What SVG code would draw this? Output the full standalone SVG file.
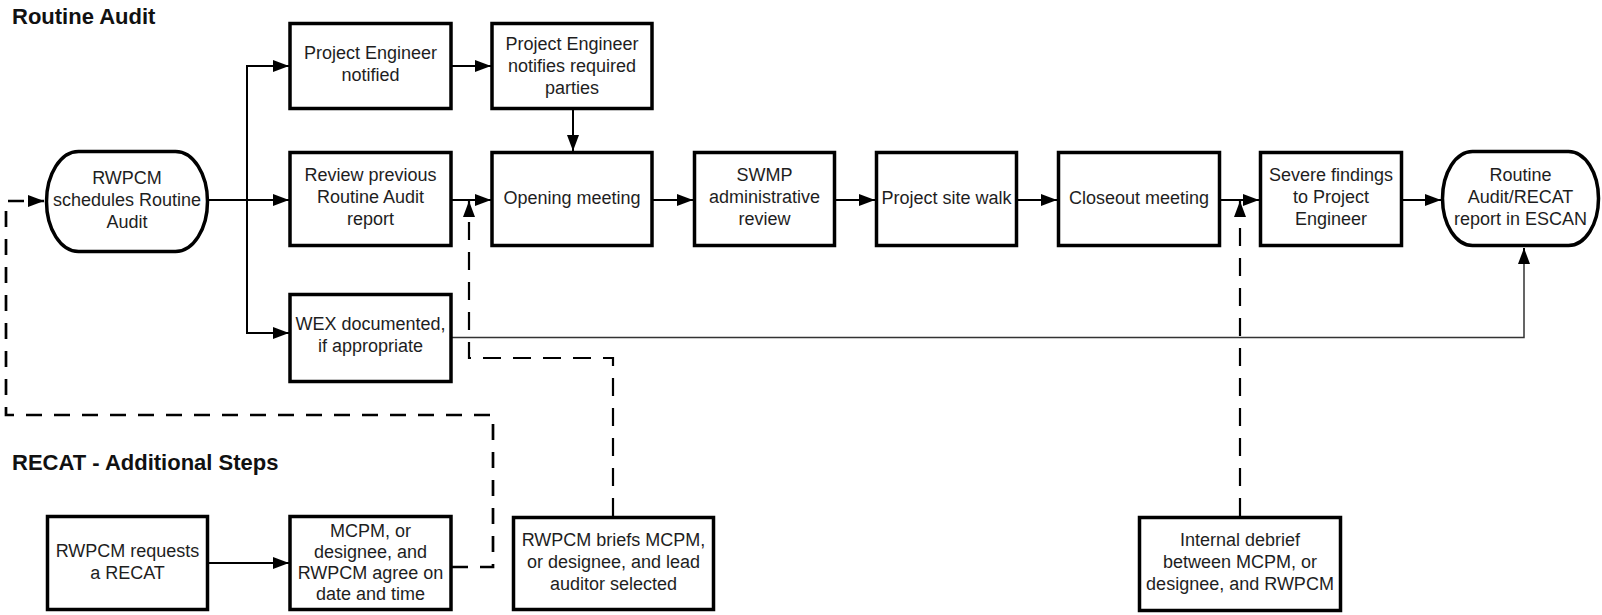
<svg xmlns="http://www.w3.org/2000/svg" width="1602" height="615" viewBox="0 0 1602 615">
  <style>
    .box { fill: #fff; stroke: #000; stroke-width: 3.5; }
    .lbl { font-family: "Liberation Sans", Arial, sans-serif; font-size: 18px; fill: #1e1e1e; text-anchor: middle; }
    .title { font-family: "Liberation Sans", Arial, sans-serif; font-size: 22px; font-weight: bold; fill: #111; }
    .conn { fill: none; stroke: #000; stroke-width: 2; }
    .thin { fill: none; stroke: #333; stroke-width: 1.5; }
    .dash { fill: none; stroke: #000; stroke-width: 2.2; stroke-dasharray: 18 12; }
    .dashb { fill: none; stroke: #000; stroke-width: 2.7; stroke-dasharray: 16 12; }
  </style>
  <defs>
    <marker id="arr" markerUnits="userSpaceOnUse" markerWidth="16" markerHeight="12" refX="16" refY="6" orient="auto">
      <path d="M0,0 L16,6 L0,12 z" fill="#000"/>
    </marker>
  </defs>
  <rect width="1602" height="615" fill="#fff"/>

  <text class="title" x="12" y="24">Routine Audit</text>
  <text class="title" x="12" y="470">RECAT - Additional Steps</text>

  <!-- connectors -->
  <g id="connectors">
    <path class="conn" d="M209,200 H289" marker-end="url(#arr)"/>
    <path class="conn" d="M247,200 V66 H289" marker-end="url(#arr)"/>
    <path class="conn" d="M247,200 V333 H289" marker-end="url(#arr)"/>
    <path class="conn" d="M452,66 H491" marker-end="url(#arr)"/>
    <path class="conn" d="M573,110 V151" marker-end="url(#arr)"/>
    <path class="conn" d="M452,200 H491" marker-end="url(#arr)"/>
    <path class="conn" d="M653,200 H693" marker-end="url(#arr)"/>
    <path class="conn" d="M836,200 H875" marker-end="url(#arr)"/>
    <path class="conn" d="M1018,200 H1057" marker-end="url(#arr)"/>
    <path class="conn" d="M1221,200 H1259" marker-end="url(#arr)"/>
    <path class="conn" d="M1403,200 H1441" marker-end="url(#arr)"/>
    <path class="thin" d="M452,337.5 H1524 V262"/>
    <path class="conn" d="M1524,262 V248" marker-end="url(#arr)"/>
    <path class="conn" d="M209,563 H289" marker-end="url(#arr)"/>
    <path class="dashb" d="M452,567 H493 V415 H6 V201 H44" marker-end="url(#arr)"/>
    <path class="dash" d="M613,516 V358 H469 V201" marker-end="url(#arr)"/>
    <path class="dash" d="M1240,516 V201" marker-end="url(#arr)"/>
  </g>

  <g id="start">
    <rect class="box" x="46.5" y="151.5" width="161" height="100" rx="32" ry="50"/>
    <text class="lbl" x="127" y="184">RWPCM</text>
    <text class="lbl" x="127" y="206">schedules Routine</text>
    <text class="lbl" x="127" y="228">Audit</text>
  </g>

  <g id="pe-notified">
    <rect class="box" x="290" y="23.5" width="161" height="85"/>
    <text class="lbl" x="370.5" y="59">Project Engineer</text>
    <text class="lbl" x="370.5" y="81">notified</text>
  </g>

  <g id="pe-notifies">
    <rect class="box" x="492" y="23.5" width="160" height="85"/>
    <text class="lbl" x="572" y="50">Project Engineer</text>
    <text class="lbl" x="572" y="72">notifies required</text>
    <text class="lbl" x="572" y="94">parties</text>
  </g>

  <g id="review">
    <rect class="box" x="290" y="152.5" width="161" height="93"/>
    <text class="lbl" x="370.5" y="181">Review previous</text>
    <text class="lbl" x="370.5" y="203">Routine Audit</text>
    <text class="lbl" x="370.5" y="225">report</text>
  </g>

  <g id="wex">
    <rect class="box" x="290" y="294.5" width="161" height="87"/>
    <text class="lbl" x="370.5" y="330">WEX documented,</text>
    <text class="lbl" x="370.5" y="352">if appropriate</text>
  </g>

  <g id="opening">
    <rect class="box" x="492" y="152.5" width="160" height="93"/>
    <text class="lbl" x="572" y="204">Opening meeting</text>
  </g>

  <g id="swmp">
    <rect class="box" x="694.5" y="152.5" width="140" height="93"/>
    <text class="lbl" x="764.5" y="181">SWMP</text>
    <text class="lbl" x="764.5" y="203">administrative</text>
    <text class="lbl" x="764.5" y="225">review</text>
  </g>

  <g id="site-walk">
    <rect class="box" x="876.5" y="152.5" width="140" height="93"/>
    <text class="lbl" x="946.5" y="204">Project site walk</text>
  </g>

  <g id="closeout">
    <rect class="box" x="1058.5" y="152.5" width="161" height="93"/>
    <text class="lbl" x="1139" y="204">Closeout meeting</text>
  </g>

  <g id="severe">
    <rect class="box" x="1260.5" y="152.5" width="141" height="93"/>
    <text class="lbl" x="1331" y="181">Severe findings</text>
    <text class="lbl" x="1331" y="203">to Project</text>
    <text class="lbl" x="1331" y="225">Engineer</text>
  </g>

  <g id="report">
    <rect class="box" x="1442.5" y="151.5" width="156" height="94" rx="30" ry="47"/>
    <text class="lbl" x="1520.5" y="181">Routine</text>
    <text class="lbl" x="1520.5" y="203">Audit/RECAT</text>
    <text class="lbl" x="1520.5" y="225">report in ESCAN</text>
  </g>

  <g id="recat-request">
    <rect class="box" x="47.5" y="516.5" width="160" height="93"/>
    <text class="lbl" x="127.5" y="557">RWPCM requests</text>
    <text class="lbl" x="127.5" y="579">a RECAT</text>
  </g>

  <g id="agree-date">
    <rect class="box" x="290" y="516.5" width="161" height="93"/>
    <text class="lbl" x="370.5" y="537">MCPM, or</text>
    <text class="lbl" x="370.5" y="558">designee, and</text>
    <text class="lbl" x="370.5" y="579">RWPCM agree on</text>
    <text class="lbl" x="370.5" y="600">date and time</text>
  </g>

  <g id="briefing">
    <rect class="box" x="513.5" y="517.5" width="200" height="92"/>
    <text class="lbl" x="613.5" y="546">RWPCM briefs MCPM,</text>
    <text class="lbl" x="613.5" y="568">or designee, and lead</text>
    <text class="lbl" x="613.5" y="590">auditor selected</text>
  </g>

  <g id="debrief">
    <rect class="box" x="1139.5" y="517.5" width="201" height="93"/>
    <text class="lbl" x="1240" y="546">Internal debrief</text>
    <text class="lbl" x="1240" y="568">between MCPM, or</text>
    <text class="lbl" x="1240" y="590">designee, and RWPCM</text>
  </g>
</svg>
